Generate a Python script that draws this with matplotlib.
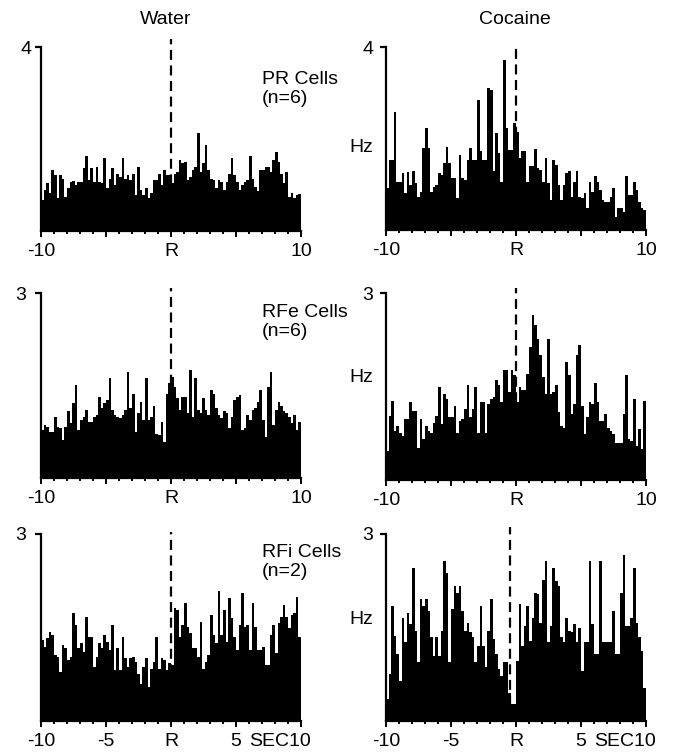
import numpy as np
import matplotlib
matplotlib.use("Agg")
import matplotlib.pyplot as plt
from matplotlib.ticker import FixedLocator

plt.rcParams['font.family'] = ['Liberation Sans', 'DejaVu Sans']

# peri-event histograms, 100 bins of 0.2 s from -10 to +10 s (Hz)
pr_water = [0.67, 0.89, 1.04, 0.82, 1.33, 1.22, 0.71, 1.22, 1.14, 0.75,
            0.93, 1.07, 1.09, 1.00, 1.07, 1.07, 1.36, 1.62, 1.11, 1.36,
            1.07, 1.40, 1.07, 1.04, 1.58, 0.93, 1.14, 1.36, 1.00, 1.25,
            1.18, 1.58, 1.14, 1.22, 1.11, 1.25, 0.78, 1.40, 0.89, 0.78,
            0.93, 0.71, 0.82, 1.11, 1.11, 1.25, 1.00, 1.33, 1.22, 1.22,
            1.04, 1.25, 1.29, 1.54, 1.47, 1.51, 1.11, 1.18, 1.33, 1.40,
            2.12, 1.29, 1.47, 1.87, 1.33, 1.14, 1.11, 0.93, 1.11, 1.07,
            0.89, 1.07, 1.25, 1.58, 1.22, 1.07, 0.89, 1.00, 1.07, 1.11,
            1.62, 1.14, 0.96, 0.86, 1.33, 1.33, 1.40, 1.40, 1.29, 1.54,
            1.72, 1.51, 1.25, 1.04, 1.29, 0.75, 0.82, 0.71, 0.78, 0.80]
pr_cocaine = [0.91, 1.53, 1.53, 2.59, 1.06, 1.06, 1.24, 0.80, 1.26, 0.99,
              1.28, 1.02, 0.73, 0.84, 1.79, 2.24, 1.79, 0.84, 0.95, 0.99,
              1.24, 1.20, 1.46, 1.82, 1.46, 1.13, 1.13, 0.69, 1.64, 1.13,
              1.09, 1.53, 1.79, 1.53, 1.53, 2.85, 1.72, 1.53, 1.53, 3.10,
              3.07, 1.28, 2.12, 1.68, 1.06, 3.72, 2.23, 1.75, 1.75, 2.34,
              2.15, 1.57, 1.72, 1.72, 1.06, 1.39, 1.39, 1.77, 1.35, 1.31,
              1.06, 1.57, 1.02, 0.66, 1.53, 1.42, 0.99, 0.66, 0.99, 1.24,
              1.28, 0.73, 1.06, 1.28, 0.73, 0.69, 0.80, 0.47, 1.06, 0.84,
              1.17, 1.06, 0.88, 0.66, 0.62, 0.62, 0.73, 0.91, 0.29, 0.47,
              0.47, 0.40, 1.17, 0.77, 0.77, 1.06, 0.88, 0.62, 0.47, 0.44]
rfe_water = [0.78, 0.86, 0.83, 0.75, 0.75, 0.99, 0.83, 0.81, 0.62, 0.83,
             1.08, 0.89, 1.21, 1.51, 0.78, 0.94, 0.99, 1.10, 0.91, 0.91,
             0.99, 1.02, 1.32, 1.13, 1.21, 1.26, 1.62, 1.10, 1.02, 0.99,
             0.97, 1.02, 1.10, 1.72, 1.13, 1.37, 0.75, 1.05, 1.24, 0.94,
             1.62, 0.94, 0.99, 1.16, 0.72, 0.70, 0.91, 0.59, 1.37, 1.54,
             1.64, 1.48, 1.29, 1.10, 1.32, 1.32, 1.05, 1.75, 0.99, 1.62,
             1.10, 1.05, 1.29, 1.10, 1.02, 1.43, 1.37, 1.13, 1.02, 0.97,
             1.08, 1.05, 0.81, 0.99, 1.26, 1.32, 1.35, 0.78, 0.81, 1.02,
             0.94, 1.10, 1.13, 1.24, 1.43, 0.94, 0.67, 1.48, 1.72, 0.86,
             1.10, 1.24, 1.16, 1.08, 1.05, 0.99, 0.89, 1.02, 0.78, 0.91]
rfe_cocaine = [0.47, 1.03, 1.27, 0.79, 0.87, 0.76, 0.71, 0.98, 0.98, 1.25,
               1.11, 1.11, 0.52, 0.98, 0.66, 0.87, 0.79, 0.76, 0.92, 1.03,
               1.49, 0.90, 1.38, 1.30, 1.01, 1.01, 1.19, 0.76, 0.95, 0.98,
               1.14, 1.52, 1.01, 1.14, 1.49, 0.76, 1.25, 1.25, 0.76, 1.22,
               1.30, 1.33, 1.60, 1.52, 1.25, 1.76, 1.76, 1.41, 1.76, 1.68,
               1.25, 1.49, 1.44, 1.44, 1.70, 2.13, 2.65, 2.48, 2.27, 2.00,
               1.65, 1.38, 2.27, 1.38, 1.41, 1.52, 1.09, 0.87, 0.84, 1.89,
               1.68, 1.06, 1.22, 2.00, 2.16, 1.19, 0.74, 1.01, 1.25, 1.22,
               1.55, 1.25, 0.95, 0.95, 1.06, 0.84, 0.79, 0.74, 0.60, 0.60,
               0.60, 1.06, 1.68, 0.66, 0.63, 1.30, 0.55, 0.82, 0.49, 1.27]
rfi_water = [1.30, 1.19, 1.33, 1.43, 1.38, 1.06, 1.03, 0.79, 1.22, 1.17,
             0.98, 1.03, 1.73, 1.54, 1.17, 1.25, 1.11, 1.67, 1.35, 1.35,
             0.87, 1.03, 1.25, 1.17, 1.38, 1.27, 1.14, 1.54, 0.82, 1.17,
             0.82, 1.35, 1.01, 0.87, 1.01, 1.03, 0.95, 0.76, 0.60, 0.87,
             1.01, 0.55, 0.84, 0.95, 1.35, 0.84, 1.01, 0.98, 0.82, 0.93,
             0.90, 1.81, 1.78, 1.35, 1.54, 1.89, 1.51, 1.41, 1.17, 1.17,
             1.03, 1.59, 0.84, 0.95, 1.06, 1.70, 1.38, 1.25, 2.09, 1.38,
             1.78, 1.27, 1.97, 1.65, 1.35, 1.14, 1.54, 2.05, 1.51, 1.54,
             1.14, 1.89, 1.51, 1.14, 1.14, 1.19, 0.90, 0.90, 1.38, 1.54,
             1.09, 1.57, 1.67, 1.86, 1.67, 1.49, 1.70, 1.73, 1.99, 1.35]
rfi_cocaine = [0.35, 0.75, 1.84, 1.36, 1.07, 0.64, 1.66, 1.26, 1.74, 1.55,
               2.46, 1.44, 0.94, 1.95, 1.84, 1.95, 1.76, 1.34, 1.04, 1.34,
               1.04, 1.44, 2.57, 2.38, 0.94, 1.79, 2.17, 2.06, 2.17, 1.76,
               1.44, 1.58, 1.42, 1.34, 0.94, 1.20, 1.84, 1.20, 0.86, 1.44,
               1.95, 1.31, 1.07, 0.83, 0.72, 0.94, 0.94, 0.45, 0.27, 0.27,
               0.96, 1.87, 1.20, 1.52, 1.84, 1.28, 1.66, 2.06, 2.03, 1.58,
               2.27, 2.57, 1.26, 1.52, 2.46, 2.25, 2.17, 1.34, 1.26, 1.66,
               1.44, 1.42, 1.55, 1.26, 1.50, 0.80, 1.26, 1.26, 2.57, 1.55,
               1.07, 1.07, 2.57, 1.26, 1.26, 1.26, 1.26, 1.76, 1.07, 1.07,
               2.06, 2.67, 1.52, 1.52, 1.66, 2.46, 1.58, 1.34, 1.12, 0.53]

col_titles = ["Water", "Cocaine"]
row_labels = ["PR Cells\n(n=6)", "RFe Cells\n(n=6)", "RFi Cells\n(n=2)"]
row_ymax = [4, 3, 3]
event_time = [[0, 0], [0, 0], [0, -0.5]]
bin_start, bin_width = -10, 0.2

panels = [[pr_water, pr_cocaine], [rfe_water, rfe_cocaine], [rfi_water, rfi_cocaine]]

W, H = 677, 752
fig = plt.figure(figsize=(W / 100, H / 100), dpi=100)

# axes boxes in pixels: left x, y of zero line, y of top
col_x = [41, 386]
row_y0 = [[231, 230], [478, 480], [721, 721]]
row_ytop = [[47, 47], [293, 293], [534, 534]]
dash_top = [[4.17, 4.02], [3.08, 3.08], [3.03, 3.11]]
ylab_pad = [[3, 5], [7, 5], [7, 5]]
FS = 14

for r in range(3):
    for c in range(2):
        x0, y0, yt = col_x[c], row_y0[r][c], row_ytop[r][c]
        ax = fig.add_axes([x0 / W, 1 - y0 / H, 260 / W, (y0 - yt) / H])
        vals = np.array(panels[r][c])
        t = bin_start + bin_width * np.arange(len(vals))
        ax.bar(t, vals, width=bin_width, align='edge', color='black',
               linewidth=0, zorder=3)
        ax.vlines(event_time[r][c], 0, dash_top[r][c], colors='black',
                  linestyles=(0, (4.5, 2.5)), lw=1.6, zorder=2, clip_on=False)
        ax.set_xlim(-10, 10)
        ax.set_ylim(0, row_ymax[r])
        for s in ['top', 'right']:
            ax.spines[s].set_visible(False)
        for s in ['left', 'bottom']:
            ax.spines[s].set_linewidth(1.6)
        ax.set_yticks([row_ymax[r]])
        ax.set_yticklabels([str(row_ymax[r])], fontsize=FS)
        ax.tick_params(axis='y', length=4, width=1.6, pad=ylab_pad[r][c])
        ax.set_xticks([-10, -5, 0, 5, 10])
        if r < 2:
            ax.set_xticklabels(['-10', '', 'R', '', '10'], fontsize=FS)
        else:
            ax.set_xticklabels(['-10', '-5', 'R', '5', ''], fontsize=FS)
            ax.annotate('SEC10', xy=(6.0, 0), xycoords=('data', 'axes fraction'),
                        xytext=(0, -8.6), textcoords='offset points',
                        fontsize=FS, ha='left', va='top', annotation_clip=False)
        ax.xaxis.set_minor_locator(FixedLocator(np.arange(-10, 11, 1)))
        ax.tick_params(axis='x', which='major', length=4, width=1.4, pad=4.6)
        ax.tick_params(axis='x', which='minor', length=2.5, width=1.4)
        if c == 1:
            hz_y = [147, 377, 620][r]
            fig.text(373 / W, 1 - hz_y / H, 'Hz', fontsize=FS,
                     ha='right', va='center')

fig.text(166 / W, 1 - 20 / H, col_titles[0], fontsize=FS, ha='center', va='center')
fig.text(515 / W, 1 - 20 / H, col_titles[1], fontsize=FS, ha='center', va='center')
for r, ly in enumerate([89, 322, 562]):
    fig.text(262 / W, 1 - ly / H, row_labels[r], fontsize=FS, ha='left',
             va='center', linespacing=1.15)

fig.savefig('out.png', dpi=100)
